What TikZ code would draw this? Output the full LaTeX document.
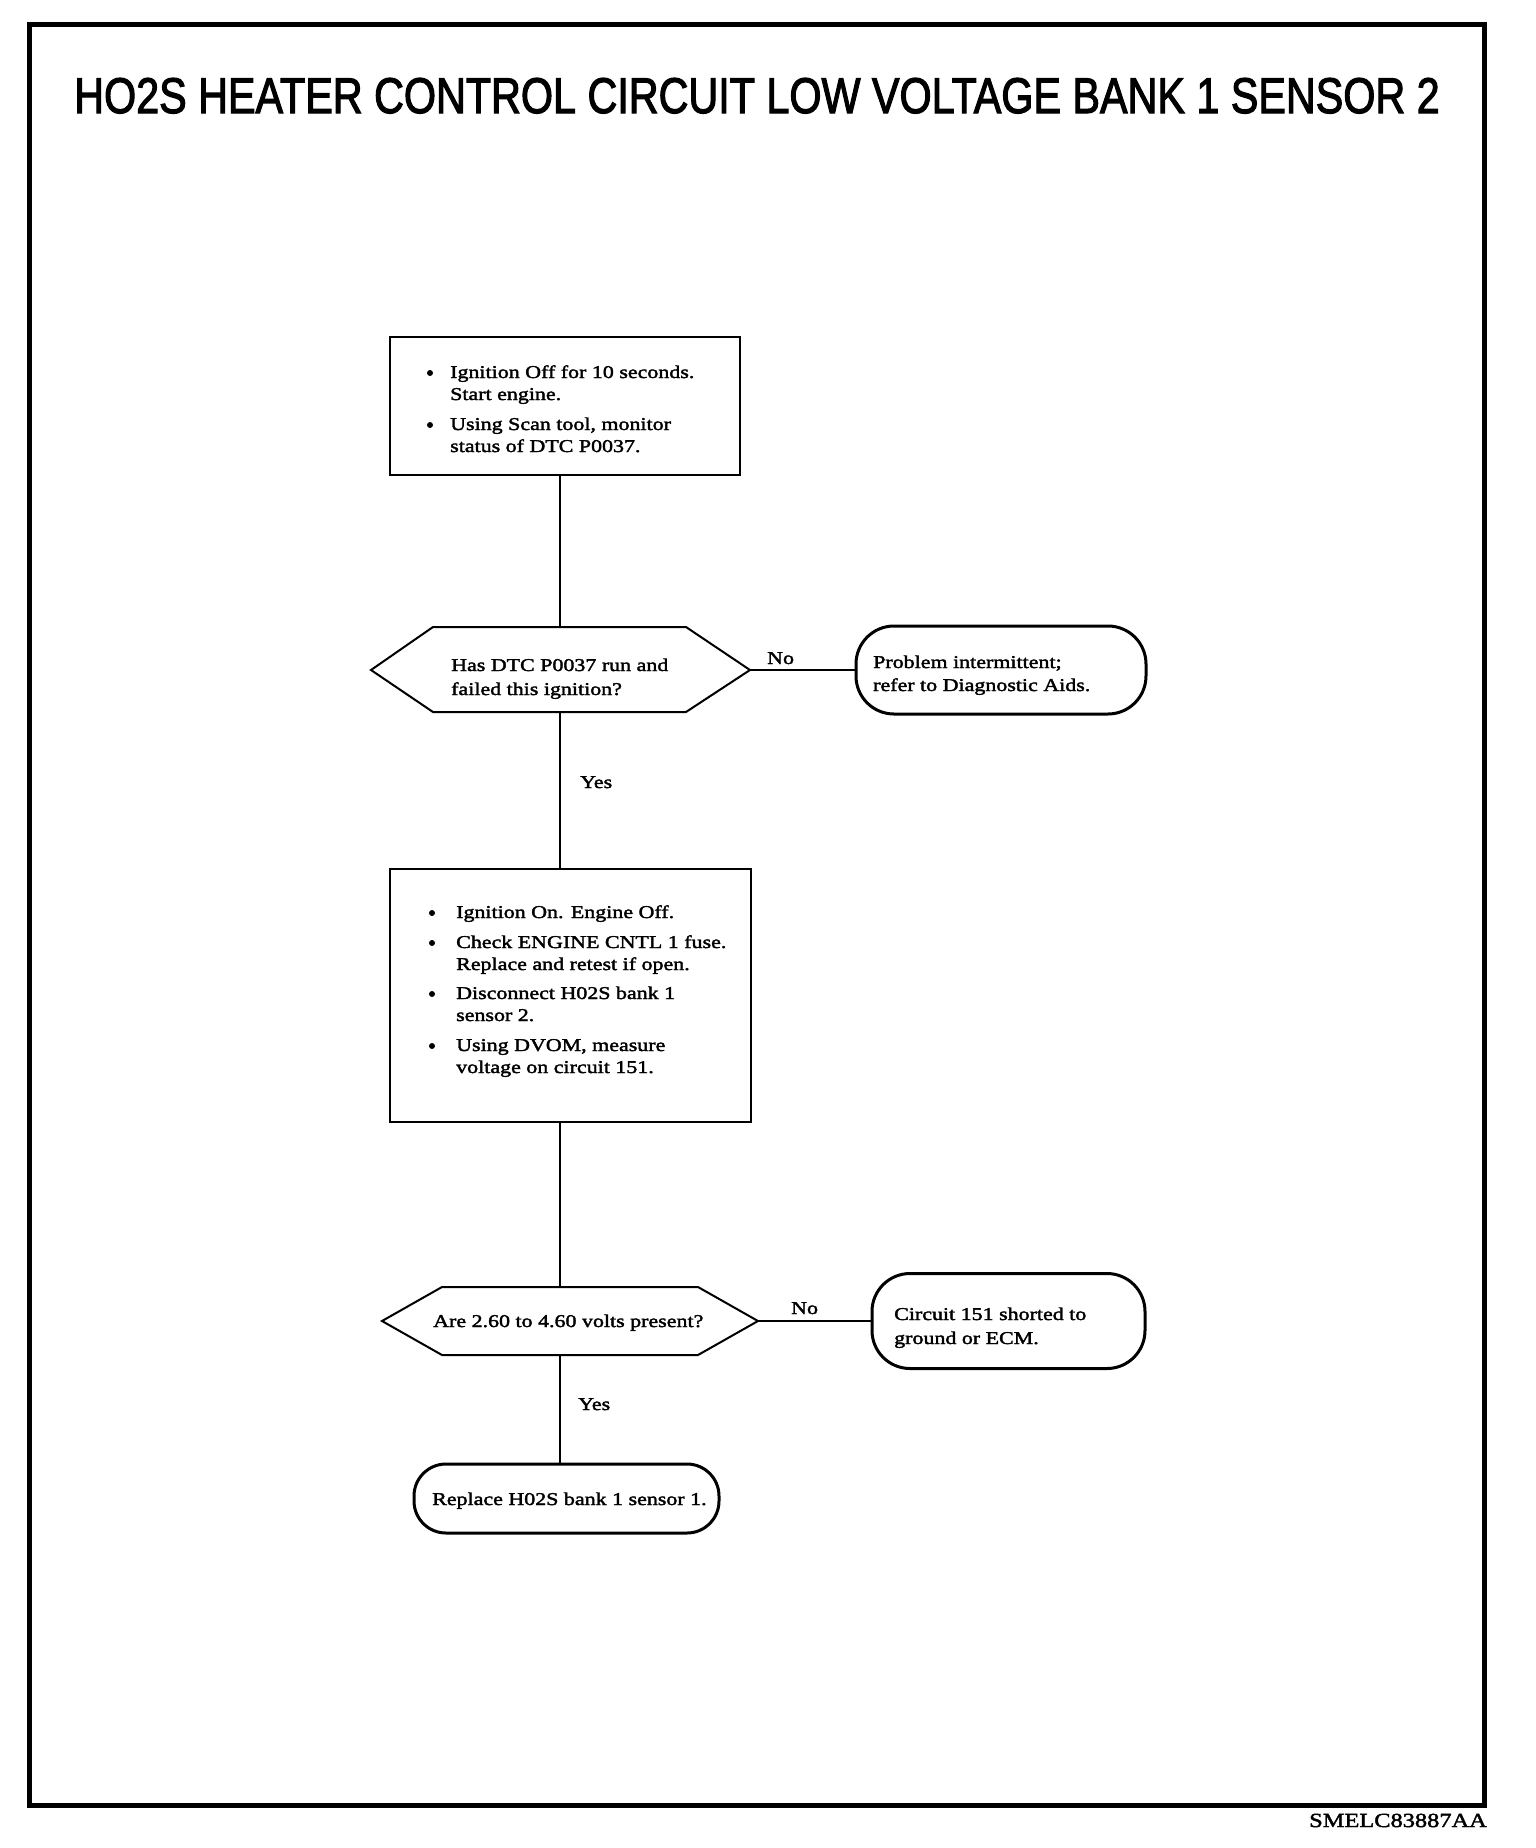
\documentclass[tikz,border=0pt]{standalone}
\usepackage{graphicx}
\usepackage{fontspec}
\setmainfont{Liberation Serif}[FakeStretch=1.22,FakeBold=2]
\newfontfamily\titlefont{Liberation Sans}[FakeBold=2.5]
\begin{document}
\begin{tikzpicture}[x=1pt,y=-1pt,
  frame/.style={line width=5pt},
  pbox/.style={draw, line width=2pt, rectangle, inner sep=0pt},
  term/.style={draw, line width=3pt, rectangle, rounded corners=38pt, inner sep=0pt},
  hex/.style={draw, line width=2pt, line join=miter},
  conn/.style={line width=1.8pt},
  txt/.style={font=\fontsize{18}{22}\selectfont, inner sep=0pt, anchor=base west},
  bul/.style={circle, fill=black, inner sep=0pt, minimum size=6pt},
  lbl/.style={font=\fontsize{18}{22}\selectfont, inner sep=0pt, anchor=base west}
]
\useasboundingbox (0,0) rectangle (1536,1848);
\fill[white] (0,0) rectangle (1536,1848);
\draw[frame] (29,24) rectangle (1484,1805);

% title
\node[anchor=base, inner sep=0pt] (title) at (757,113)
  {\resizebox{1365pt}{35pt}{\titlefont HO2S HEATER CONTROL CIRCUIT LOW VOLTAGE BANK 1 SENSOR 2}};

% box 1
\node[pbox, minimum width=350pt, minimum height=138pt] (b1) at (565,406) {};
\node[bul] (b1u1) at (430,373) {};
\node[txt] (b1l1) at (450,378) {Ignition Off for 10 seconds.};
\node[txt] (b1l2) at (450,400) {Start engine.};
\node[bul] (b1u2) at (430,425) {};
\node[txt] (b1l3) at (450,430) {Using Scan tool, monitor};
\node[txt] (b1l4) at (450,452) {status of DTC P0037.};

% hexagon 1
\coordinate (h1w) at (371,670);
\coordinate (h1e) at (750,670);
\coordinate (h1n) at (560,627);
\coordinate (h1s) at (560,712);
\draw[hex] (h1w) -- (433,627) -- (686,627) -- (h1e) -- (686,712) -- (433,712) -- cycle;
\node[txt] (h1l1) at (451,671) {Has DTC P0037 run and};
\node[txt] (h1l2) at (451,695) {failed this ignition?};

% terminal 1
\node[term, minimum width=290pt, minimum height=88pt] (t1) at (1001,670) {};
\node[txt] (t1l1) at (873,668) {Problem intermittent;};
\node[txt] (t1l2) at (873,691) {refer to Diagnostic Aids.};

% box 2
\node[pbox, minimum width=361pt, minimum height=253pt] (b2) at (570.5,995.5) {};
\node[bul] (b2u1) at (432,913) {};
\node[txt] (b2l1) at (456,918) {Ignition On. Engine Off.};
\node[bul] (b2u2) at (432,943) {};
\node[txt] (b2l2) at (456,948) {Check ENGINE CNTL 1 fuse.};
\node[txt] (b2l3) at (456,970) {Replace and retest if open.};
\node[bul] (b2u3) at (432,994) {};
\node[txt] (b2l4) at (456,999) {Disconnect H02S bank 1};
\node[txt] (b2l5) at (456,1021) {sensor 2.};
\node[bul] (b2u4) at (432,1046) {};
\node[txt] (b2l6) at (456,1051) {Using DVOM, measure};
\node[txt] (b2l7) at (456,1073) {voltage on circuit 151.};

% hexagon 2
\coordinate (h2w) at (382,1321);
\coordinate (h2e) at (758,1321);
\coordinate (h2n) at (560,1287);
\coordinate (h2s) at (560,1355);
\draw[hex] (h2w) -- (442,1287) -- (698,1287) -- (h2e) -- (698,1355) -- (442,1355) -- cycle;
\node[txt] (h2l1) at (433,1327) {Are 2.60 to 4.60 volts present?};

% terminal 2
\node[term, minimum width=273pt, minimum height=95pt] (t2) at (1008.5,1321) {};
\node[txt] (t2l1) at (894,1320) {Circuit 151 shorted to};
\node[txt] (t2l2) at (894,1344) {ground or ECM.};

% terminal 3
\node[term, minimum width=305pt, minimum height=69pt, rounded corners=32pt] (t3) at (566.5,1498.5) {};
\node[txt] (t3l1) at (432,1505) {Replace H02S bank 1 sensor 1.};

% connectors
\draw[conn] (b1.south -| h1n) -- (h1n);
\draw[conn] (h1s) -- (h1s |- b2.north);
\draw[conn] (b2.south -| h2n) -- (h2n);
\draw[conn] (h2s) -- (h2s |- t3.north);
\draw[conn] (h1e) -- (t1.west);
\draw[conn] (h2e) -- (t2.west);

% labels
\node[lbl] (no1) at (767,664) {No};
\node[lbl] (yes1) at (580,788) {Yes};
\node[lbl] (no2) at (791,1314) {No};
\node[lbl] (yes2) at (578,1410) {Yes};

% footer
\node[anchor=base east, inner sep=0pt, font=\fontsize{20}{24}\selectfont] (foot) at (1487,1827) {SMELC83887AA};
\end{tikzpicture}
\end{document}
